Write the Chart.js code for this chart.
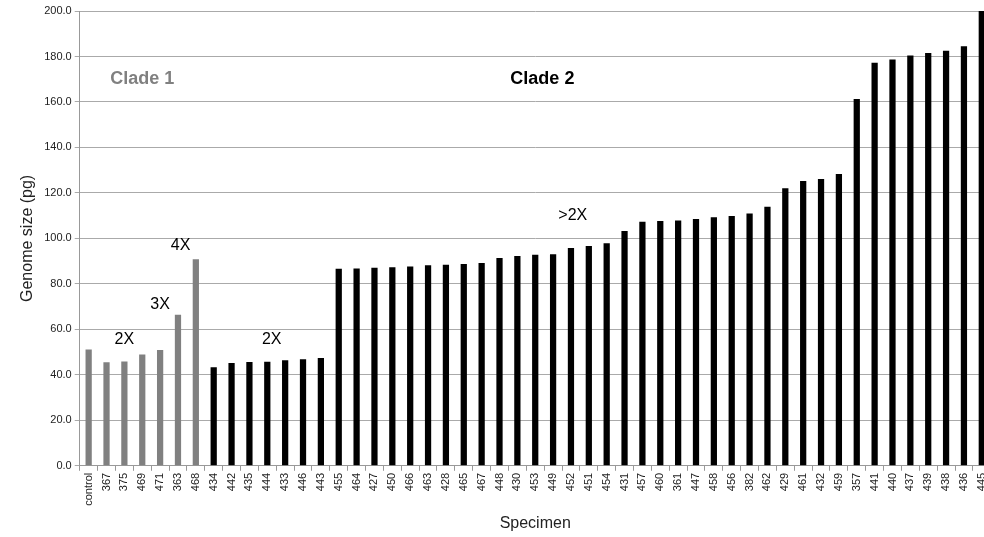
<!DOCTYPE html>
<html>
<head>
<meta charset="utf-8">
<script src="https://cdn.jsdelivr.net/npm/chart.js@4"></script>
<style>
  html, body { margin: 0; padding: 0; background: #fff; overflow: hidden; }
  #wrap { width: 997px; height: 537px; }
</style>
</head>
<body>
<div id="wrap"><canvas id="genome"></canvas></div>
<script>
var specimens = ["control", "367", "375", "469", "471", "363", "468",
  "434", "442", "435", "444", "433", "446", "443",
  "455", "464", "427", "450", "466", "463", "428", "465", "467", "448",
  "430", "453", "449", "452", "451", "454", "431", "457", "460", "361",
  "447", "458", "456", "382", "462", "429", "461", "432", "459", "357",
  "441", "440", "437", "439", "438", "436", "445"];

var genomeSize = [51.1, 45.5, 45.9, 48.9, 50.9, 66.4, 90.8,
  43.3, 45.2, 45.6, 45.7, 46.4, 46.9, 47.4,
  86.7, 86.8, 87.1, 87.3, 87.6, 88.2, 88.4, 88.7, 89.2, 91.4,
  92.3, 92.8, 93.0, 95.8, 96.7, 97.9, 103.3, 107.3, 107.6, 107.9,
  108.5, 109.3, 109.9, 110.9, 113.9, 122.0, 125.2, 126.1, 128.3, 161.3,
  177.2, 178.7, 180.4, 181.5, 182.5, 184.5, 200.0];

// first 7 specimens belong to Clade 1
var clade1Count = 7;

var yTicks = [0, 20, 40, 60, 80, 100, 120, 140, 160, 180, 200];

// text labels placed at (category index, value)
var notes = [
  { text: "Clade 1", x: 3, y: 170, bold: true, color: "#808080", size: 18 },
  { text: "Clade 2", x: 25.4, y: 170, bold: true, color: "#000", size: 18 },
  { text: "2X", x: 2, y: 55.6, color: "#000", size: 16 },
  { text: "3X", x: 4, y: 71, color: "#000", size: 16 },
  { text: "4X", x: 5.15, y: 97, color: "#000", size: 16 },
  { text: "2X", x: 10.25, y: 55.6, color: "#000", size: 16 },
  { text: ">2X", x: 27.1, y: 110, color: "#000", size: 16 }
];

var notesPlugin = {
  id: "notes",
  afterDraw: function (chart) {
    var c = chart.ctx;
    var xs = chart.scales.x, ys = chart.scales.y;
    c.save();
    c.textAlign = "center";
    c.textBaseline = "middle";
    notes.forEach(function (n) {
      c.font = (n.bold ? "bold " : "") + n.size + "px 'Liberation Sans', Arial, sans-serif";
      c.fillStyle = n.color;
      c.fillText(n.text, xs.getPixelForValue(n.x), ys.getPixelForValue(n.y));
    });
    c.restore();
  }
};

Chart.defaults.font.family = "'Liberation Sans', Arial, sans-serif";
Chart.defaults.color = "#222";

var ctx = document.getElementById("genome").getContext("2d");
var genomeChart = new Chart(ctx, {
  type: "bar",
  data: {
    labels: specimens,
    datasets: [{
      data: genomeSize,
      backgroundColor: function (c) { return c.dataIndex < clade1Count ? "#808080" : "#000"; },
      categoryPercentage: 1.0,
      barPercentage: 0.35
    }]
  },
  options: {
    responsive: true,
    maintainAspectRatio: false,
    animation: false,
    layout: { padding: { top: 11, bottom: 0, left: 14, right: 0 } },
    plugins: { legend: { display: false }, tooltip: { enabled: false } },
    scales: {
      x: {
        grid: { display: true, drawOnChartArea: false, color: "#999", tickLength: 5 },
        border: { color: "#999" },
        ticks: { autoSkip: false, minRotation: 90, maxRotation: 90, font: { size: 11 }, padding: 2 },
        title: { display: true, text: "Specimen", font: { size: 16 }, padding: { top: 6 } }
      },
      y: {
        min: 0,
        max: 200,
        afterBuildTicks: function (axis) { axis.ticks = yTicks.map(function (v) { return { value: v }; }); },
        grid: { color: "#aaa", tickLength: 5 },
        border: { color: "#999" },
        ticks: { font: { size: 11 }, padding: 3, callback: function (v) { return Number(v).toFixed(1); } },
        title: { display: true, text: "Genome size (pg)", font: { size: 16 } }
      }
    }
  },
  plugins: [notesPlugin]
});
</script>
</body>
</html>
